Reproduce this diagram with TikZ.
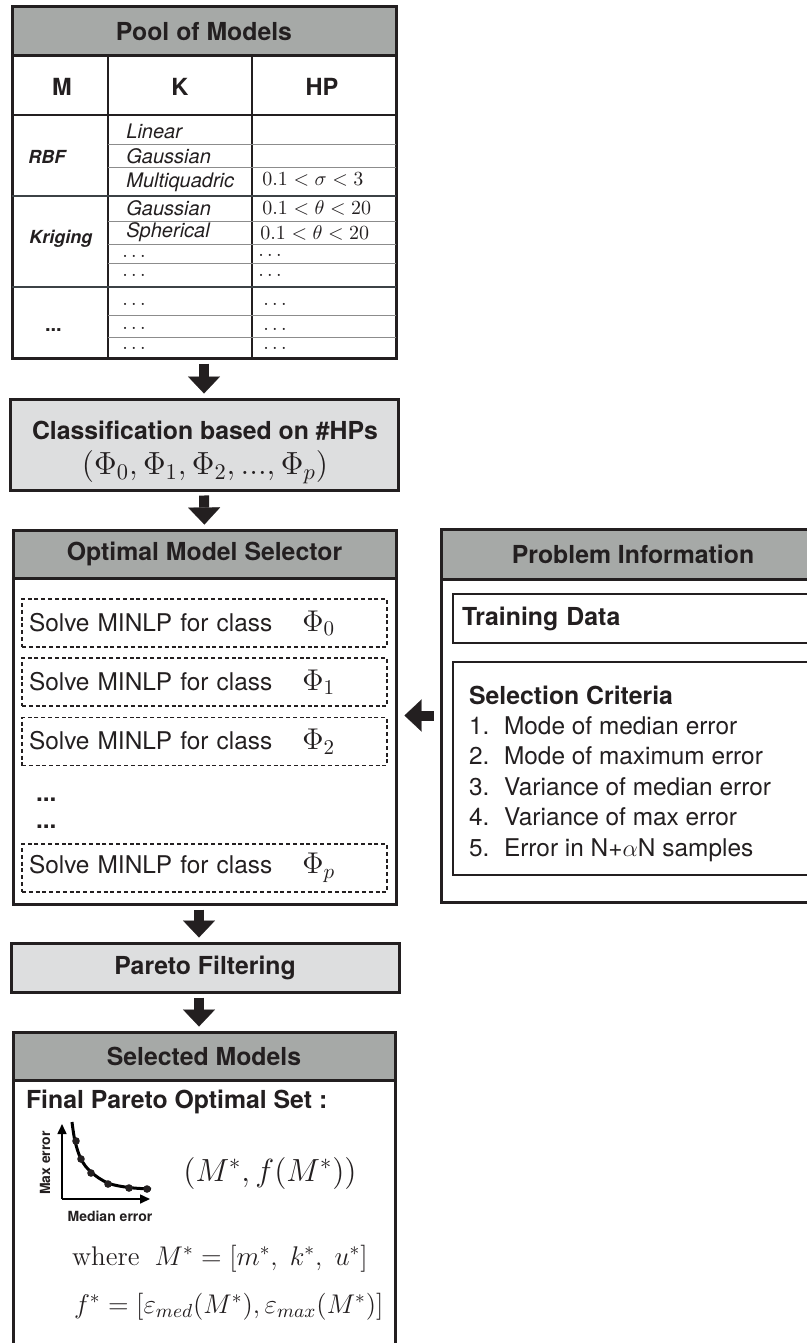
\RequirePackage{fix-cm}
\documentclass[tikz,border=0pt]{standalone}
\usepackage{amsmath}
\usepackage{fontspec}
\setsansfont{TeX Gyre Heros}
\renewcommand{\familydefault}{\sfdefault}
\usetikzlibrary{arrows.meta, positioning, calc}

\definecolor{inkblack}{RGB}{35,31,32}
\definecolor{headgray}{RGB}{166,169,167}
\definecolor{boxgray}{RGB}{221,222,223}
\definecolor{rulegray}{RGB}{140,140,140}
\definecolor{groupline}{RGB}{60,66,70}

\newcommand{\fsHead}{\fontsize{12.4}{15}\selectfont\bfseries}
\newcommand{\fsBody}{\fontsize{12.2}{15}\selectfont}
\newcommand{\fsTab}{\fontsize{10}{12}\selectfont}
\newcommand{\fsBig}{\fontsize{16}{19}\selectfont}
\newcommand{\fsFormula}{\fontsize{13.5}{16}\selectfont}

\begin{document}
\begin{tikzpicture}[x=0.5pt, y=-0.5pt, font=\sffamily, text=inkblack,
  panel/.style={draw=inkblack, line width=1.5pt, inner sep=0pt},
  headbar/.style={draw=inkblack, line width=1.5pt, fill=headgray, font=\fsHead, inner sep=0pt},
  stepbox/.style={draw=inkblack, line width=1.5pt, fill=boxgray, font=\fsHead, inner sep=0pt},
  solvebox/.style={draw=inkblack, line width=0.75pt, dash pattern=on 2pt off 1.4pt,
    minimum width=182.5pt, minimum height=24pt, text width=175.5pt, inner xsep=3.5pt,
    align=left, font=\fsBody},
  fatarrow/.style={draw=inkblack, line width=5pt,
    -{Triangle[width=16pt, length=8.5pt, line width=0.1pt]}, shorten <=2pt, shorten >=2pt},
  thinrule/.style={draw=rulegray, line width=0.5pt},
  grouprule/.style={draw=groupline, line width=1.3pt},
  colrule/.style={draw=inkblack, line width=1.2pt},
  kcell/.style={anchor=base west, font=\fsTab\itshape, inner sep=0.5pt},
  dotcell/.style={anchor=base, font=\fsTab, inner sep=0pt}]
  \useasboundingbox (0,0) rectangle (807,1343);

  % Pool of models table
  \node[panel, minimum width=192pt, minimum height=175.5pt] (pool) at (204,182.5) {};
  \node[headbar, minimum width=192pt, minimum height=24.5pt] (poolhead) at (204,31.5) {Pool of Models};
  \node[font=\fontsize{11.8}{14}\selectfont\bfseries] (colM) at (62,87) {M};
  \node[font=\fontsize{11.8}{14}\selectfont\bfseries] (colK) at (180,87) {K};
  \node[font=\fontsize{11.8}{14}\selectfont\bfseries] (colHP) at (322,87) {HP};
  \draw[colrule] (12,115) -- (396,115);
  \draw[colrule] (108,56) -- (108,358);
  \draw[colrule] (252,56) -- (252,358);
  \foreach \y in {144,167,221,244,263,315,337}
    \draw[thinrule] (108,\y) -- (396,\y);
  \foreach \y in {196,287}
    \draw[grouprule] (12,\y) -- (396,\y);

  \node[anchor=west, inner sep=0pt, font=\fontsize{9}{11}\selectfont\bfseries\itshape] (rbf) at (28,157) {RBF};
  \node[anchor=west, inner sep=0pt, font=\fontsize{9}{11}\selectfont\bfseries\itshape] (kriging) at (29,239) {Kriging};
  \node[anchor=base west, font=\fsTab\bfseries] (mdots) at (38,331) {...};
  \foreach \t/\y [count=\i] in {Linear/139, Gaussian/163, Multiquadric/187, Gaussian/215, Spherical/237}
    \node[kcell] (kernel\i) at (125,\y) {\t};
  \foreach \y [count=\i] in {257,276,305,329,349}
    \node[dotcell] (kdots\i) at (134,\y) {$\ldots$};
  \node[anchor=base west, inner sep=0.5pt, font=\fsTab] (hp1) at (261,185) {$0.1<\sigma<3$};
  \node[anchor=base west, inner sep=0.5pt, font=\fsTab] (hp2) at (261,214) {$0.1<\theta<20$};
  \node[anchor=base west, inner sep=0.5pt, font=\fsTab] (hp3) at (259,239) {$0.1<\theta<20$};
  \foreach \x/\y [count=\i] in {270/256, 270/276, 275/305, 275/330, 275/349}
    \node[dotcell] (hpdots\i) at (\x,\y) {$\ldots$};

  % Classification
  \node[stepbox, minimum width=194pt, minimum height=45.5pt] (classify) at (204,444.5) {};
  \node[font=\fsHead] (clstitle) at (205,431) {Classification based on \#HPs};
  \node[font=\fsBig] (clsmath) at (205,467) {$(\Phi_0,\Phi_1,\Phi_2,...,\Phi_p)$};

  % Optimal model selector
  \node[panel, minimum width=191.5pt, minimum height=187pt] (selector) at (204.5,717) {};
  \node[headbar, minimum width=191.5pt, minimum height=24pt] (selhead) at (204.5,554) {Optimal Model Selector};
  \foreach \y/\k in {623/0, 682/1, 741.5/2, 868/p}
    \node[solvebox] (solve\k) at (204.5,\y) {Solve MINLP for class\hspace{15pt}{\fontsize{15}{18}\selectfont$\Phi_{\k}$}};
  \node[anchor=base west, font=\fsBody\bfseries] (seldots1) at (29,801) {...};
  \node[anchor=base west, font=\fsBody\bfseries] (seldots2) at (29,828) {...};

  % Pareto filtering
  \node[stepbox, minimum width=194pt, minimum height=24.5pt] (pareto) at (205,967.5) {Pareto Filtering};

  % Selected models
  \node[panel, minimum width=191pt, minimum height=164pt] (selected) at (204,1196) {};
  \node[headbar, minimum width=191pt, minimum height=24pt] (selhead2) at (204,1056) {Selected Models};
  \node[anchor=base west, font=\fsHead] (finalset) at (19,1108) {Final Pareto Optimal Set :};
  \coordinate (origin) at (62,1199);
  \draw[line width=0.8pt, -{Triangle[width=4.5pt, length=5pt]}] (origin) -- (62,1124);
  \draw[line width=0.8pt, -{Triangle[width=4.5pt, length=5pt]}] (origin) -- (150,1199);
  \draw[line width=1.5pt] plot[smooth, tension=0.6] coordinates
    {(72,1122) (75,1141) (81,1159) (91,1172) (108,1183) (129,1187.5) (151,1189)};
  \foreach \p in {(76,1141),(81,1159),(91,1173),(108,1184),(129,1188),(147,1189)}
    \fill[inkblack] \p circle (1.9pt);
  \node[rotate=90, font=\fontsize{7}{8}\selectfont\bfseries] (ylabel) at (45,1163) {Max error};
  \node[font=\fontsize{7}{8}\selectfont\bfseries] (xlabel) at (110,1216) {Median error};
  \node[font=\fsBig] (pairM) at (270,1173) {$(M^*,f(M^*))$};
  \node[anchor=base west, font=\fsFormula] (whereM) at (65,1265) {$\textrm{where}\ \ M^*=[m^*,\ k^*,\ u^*]$};
  \node[anchor=base west, font=\fsFormula] (fstar) at (67,1313) {$f^*=[\varepsilon_{med}(M^*),\varepsilon_{max}(M^*)]$};

  % Problem information
  \node[panel, minimum width=192pt, minimum height=186.5pt] (info) at (633,715.5) {};
  \node[headbar, minimum width=192pt, minimum height=25pt] (infohead) at (633,554) {Problem Information};
  \node[panel, line width=1.3pt, minimum width=180pt, minimum height=24.5pt, text width=171pt,
    inner xsep=4.5pt, align=left, font=\fsHead] (training) at (633,618.5) {Training Data};
  \node[panel, line width=1.3pt, minimum width=180pt, minimum height=106.5pt] (criteria) at (633,768.5) {};
  \node[anchor=base west, font=\fsHead] (crithead) at (462,704) {Selection Criteria};
  \foreach \t [count=\i] in {Mode of median error, Mode of maximum error, Variance of median error,
      Variance of max error, Error in N+$\alpha$N samples}
    \node[anchor=base west, font=\fsBody] (crit\i) at (462,{734+30.5*(\i-1)}) {\makebox[17.5pt][l]{\i.}\t};

  % Arrows
  \draw[fatarrow] (pool.south) -- (classify.north);
  \draw[fatarrow] (classify.south) -- (selector.north);
  \draw[fatarrow] ([xshift=-2.75pt]selector.south) -- ([xshift=-2.75pt]selector.south |- pareto.north);
  \draw[fatarrow] ([xshift=-3pt]pareto.south) -- ([xshift=-3pt]pareto.south |- selected.north);
  \draw[fatarrow, shorten <=3pt, shorten >=3.5pt] (info.west) -- (info.west -| selector.east);
\end{tikzpicture}
\end{document}
